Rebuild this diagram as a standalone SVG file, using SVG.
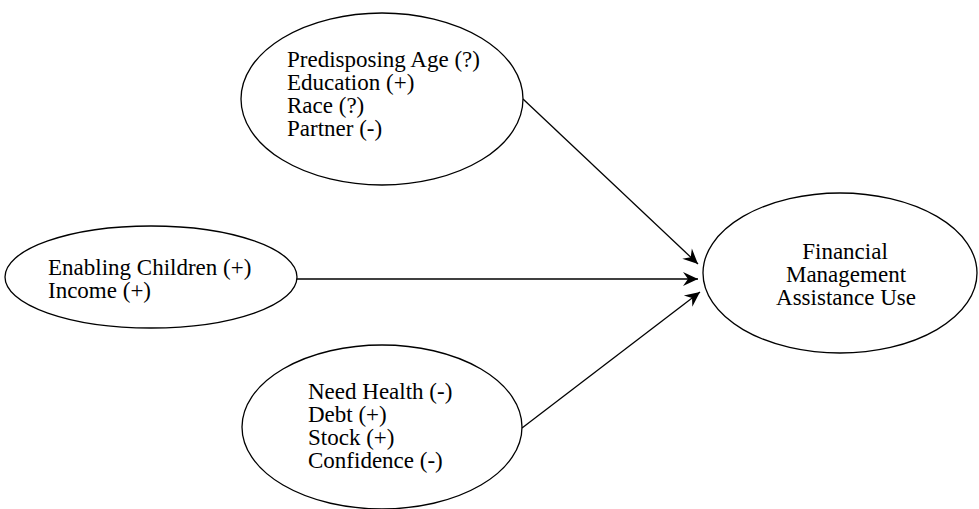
<svg xmlns="http://www.w3.org/2000/svg" width="979" height="509" viewBox="0 0 979 509">
<style>
.node ellipse{fill:#fff;stroke:#000;stroke-width:1.3}
.t{font-family:"Liberation Serif","Times New Roman",serif;font-size:23px;fill:#000}
.c{text-anchor:middle}
.edge{stroke:#000;stroke-width:1.3;fill:none;marker-end:url(#ah)}
</style>
<defs>
<marker id="ah" markerUnits="userSpaceOnUse" markerWidth="20" markerHeight="16" viewBox="-16 -8 18 16" refX="0" refY="0" orient="auto">
<path d="M0,0 L-15,-7 L-10,0 L-15,7 Z" fill="#000"/>
</marker>
</defs>
<rect width="979" height="509" fill="#fff"/>
<g id="predisposing" class="node">
<ellipse cx="382" cy="99" rx="141" ry="86"/>
<text class="t" x="287" y="67">Predisposing Age (?)</text>
<text class="t" x="287" y="90">Education (+)</text>
<text class="t" x="287" y="113">Race (?)</text>
<text class="t" x="287" y="136">Partner (-)</text>
</g>
<g id="enabling" class="node">
<ellipse cx="151" cy="277" rx="146" ry="51"/>
<text class="t" x="48" y="275">Enabling Children (+)</text>
<text class="t" x="48" y="298">Income (+)</text>
</g>
<g id="need" class="node">
<ellipse cx="382" cy="427" rx="140" ry="82"/>
<text class="t" x="308" y="399">Need Health (-)</text>
<text class="t" x="308" y="422">Debt (+)</text>
<text class="t" x="308" y="445">Stock (+)</text>
<text class="t" x="308" y="468">Confidence (-)</text>
</g>
<g id="outcome" class="node">
<ellipse cx="840" cy="273" rx="137" ry="80"/>
<text class="t c" x="845" y="259">Financial</text>
<text class="t c" x="846" y="282">Management</text>
<text class="t c" x="846" y="305">Assistance Use</text>
</g>
<g id="connectors">
<line class="edge" x1="523" y1="99" x2="698" y2="264"/>
<line class="edge" x1="297" y1="279" x2="698" y2="279"/>
<line class="edge" x1="522" y1="428" x2="700" y2="292"/>
</g>
</svg>
